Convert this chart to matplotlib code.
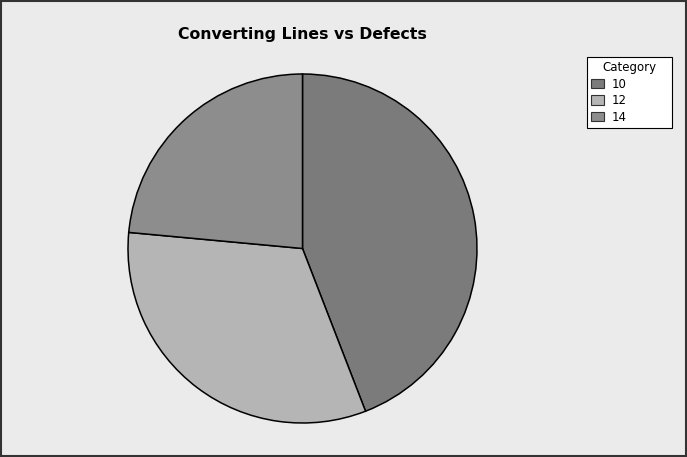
import matplotlib.pyplot as plt
from matplotlib.patches import Rectangle

# defects per converting line
categories = ['10', '12', '14']
defects = [15, 11, 8]
colors = ['#7b7b7b', '#b5b5b5', '#8d8d8d']

W, H = 687, 457
fig = plt.figure(figsize=(W / 100, H / 100), dpi=100, facecolor='#ebebeb')

# outer frame
fig.patches.append(Rectangle((0.002, 0.003), 0.996, 0.994, transform=fig.transFigure,
                             fill=False, edgecolor='#333333', linewidth=1.5))

# pie centred at (302.5, 248.5) px, radius 174.5 px
cx, cy, r = 302.5, 248.5, 174.5
ax = fig.add_axes([(cx - r) / W, (H - cy - r) / H, 2 * r / W, 2 * r / H])
ax.set_facecolor('none')
wedges, _ = ax.pie(defects, colors=colors, startangle=90, counterclock=False,
                   wedgeprops=dict(edgecolor='black', linewidth=1.1))
ax.set_xlim(-1, 1)
ax.set_ylim(-1, 1)
ax.set_aspect('equal')

fig.text(302.5 / W, 1 - 35 / H, 'Converting Lines vs Defects', ha='center', va='center',
         fontsize=11.3, fontweight='bold', family='DejaVu Sans')

# legend box 587..672 px wide, top at 57 px
lx0, lx1, ltop, lh = 587, 672, 57, 70
leg = fig.legend(wedges, categories, title='Category', loc='upper left', mode='expand',
                 bbox_to_anchor=(lx0 / W, 1 - (ltop + lh) / H, (lx1 - lx0) / W, lh / H),
                 borderaxespad=0, fontsize=8.5, title_fontsize=8.5,
                 fancybox=False, framealpha=1, edgecolor='black', facecolor='white',
                 handlelength=1.1, handleheight=0.85, handletextpad=0.6,
                 labelspacing=0.3, borderpad=0.35, alignment='center')
leg.get_frame().set_linewidth(0.8)
for h in leg.legend_handles:
    h.set_edgecolor('#333333')
    h.set_linewidth(0.8)

fig.savefig('out.png', dpi=100, facecolor=fig.get_facecolor())
